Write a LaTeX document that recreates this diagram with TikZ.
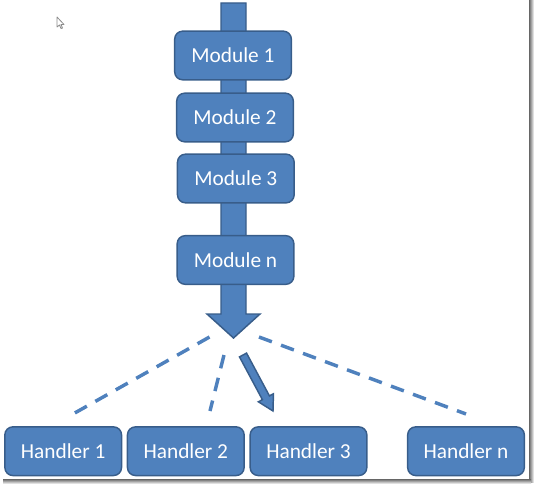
\documentclass[tikz,border=0pt]{standalone}
\usepackage{fontspec}
\setmainfont{Carlito}
\usetikzlibrary{calc}

\definecolor{boxblue}{HTML}{4F81BD}
\definecolor{boxline}{HTML}{385D8A}

\begin{document}
\begin{tikzpicture}[
    x=0.75pt, y=-0.75pt,
    box/.style ={
        rounded corners=6pt,
        fill=boxblue,
        draw=boxline,
        line width=1.1pt,
        text=white,
        minimum width=87.5pt,
        minimum height=36.5pt,
        font=\fontsize{16}{19}\selectfont
    },
    fan/.style ={
        boxblue,
        line width=2.6pt,
        dash pattern=on 10.3pt off 7.3pt
    },
    blockarrow/.style ={
        fill=boxblue,
        draw=boxline,
        line width=1.1pt,
        line join=miter
    }
    ]
    \useasboundingbox (0,0) rectangle (534,484);

    % frame shadow and cursor
    \fill[left color=black!60, right color=white] (529,0) rectangle (534,482);
    \fill[top color=black!60, bottom color=white] (3,479) rectangle (531,484);
    \draw[black!45, line width=0.6pt, fill=white, line join=round]
        (57,17) -- (57,27) -- (59.5,25) -- (61,28.5) -- (62.5,28) -- (61,24.5) -- (64,24.5) -- cycle;

    % big arrow behind the modules
    \coordinate (top) at (233.5,3);
    \coordinate (tip) at (233.5,338);
    \draw[blockarrow] (221,3) -- (246,3) -- (246,314) -- (260,314) -- (tip)
        -- (207,314) -- (221,314) -- cycle;

    \foreach \name/ \lbl/ \pos in {{m1/1/(233,55.5)}, {m2/2/(235,117.5)}, {m3/3/(235.8,178.5)}, {mn/n/(235.5,260)}}
        \node[box] (\name) at \pos {Module \lbl};

    \foreach \name/ \lbl/ \pos in {{h1/1/(63.2,451.2)}, {h2/2/(185.8,451.2)}, {h3/3/(308.5,451.2)}, {hn/n/(466,451.2)}}
        \node[box] (\name) at \pos {Handler \lbl};

    % dashed fan
    \coordinate (f1a) at (209.5,337);
    \coordinate (f1b) at (73,414);
    \coordinate (f2a) at (224,355);
    \coordinate (f2b) at (210,411);
    \coordinate (fna) at (259,337);
    \coordinate (fnb) at (466,414);
    \foreach \src/ \dst in {f1a/f1b, f2a/f2b, fna/fnb}
        \draw[fan] (\src) -- (\dst);

    % chosen handler
    \coordinate (s) at (243,355);
    \coordinate (t) at (273,411);
    \coordinate (hb) at ($(t)!11.25pt!(s)$);
    \draw[blockarrow] ($(s)!3pt!90:(t)$) -- ($(hb)!3pt!-90:(s)$) -- ($(hb)!6.4pt!-90:(s)$) -- (t)
        -- ($(hb)!6.4pt!90:(s)$) -- ($(hb)!3pt!90:(s)$) -- ($(s)!3pt!-90:(t)$) -- cycle;

\end{tikzpicture}
\end{document}
